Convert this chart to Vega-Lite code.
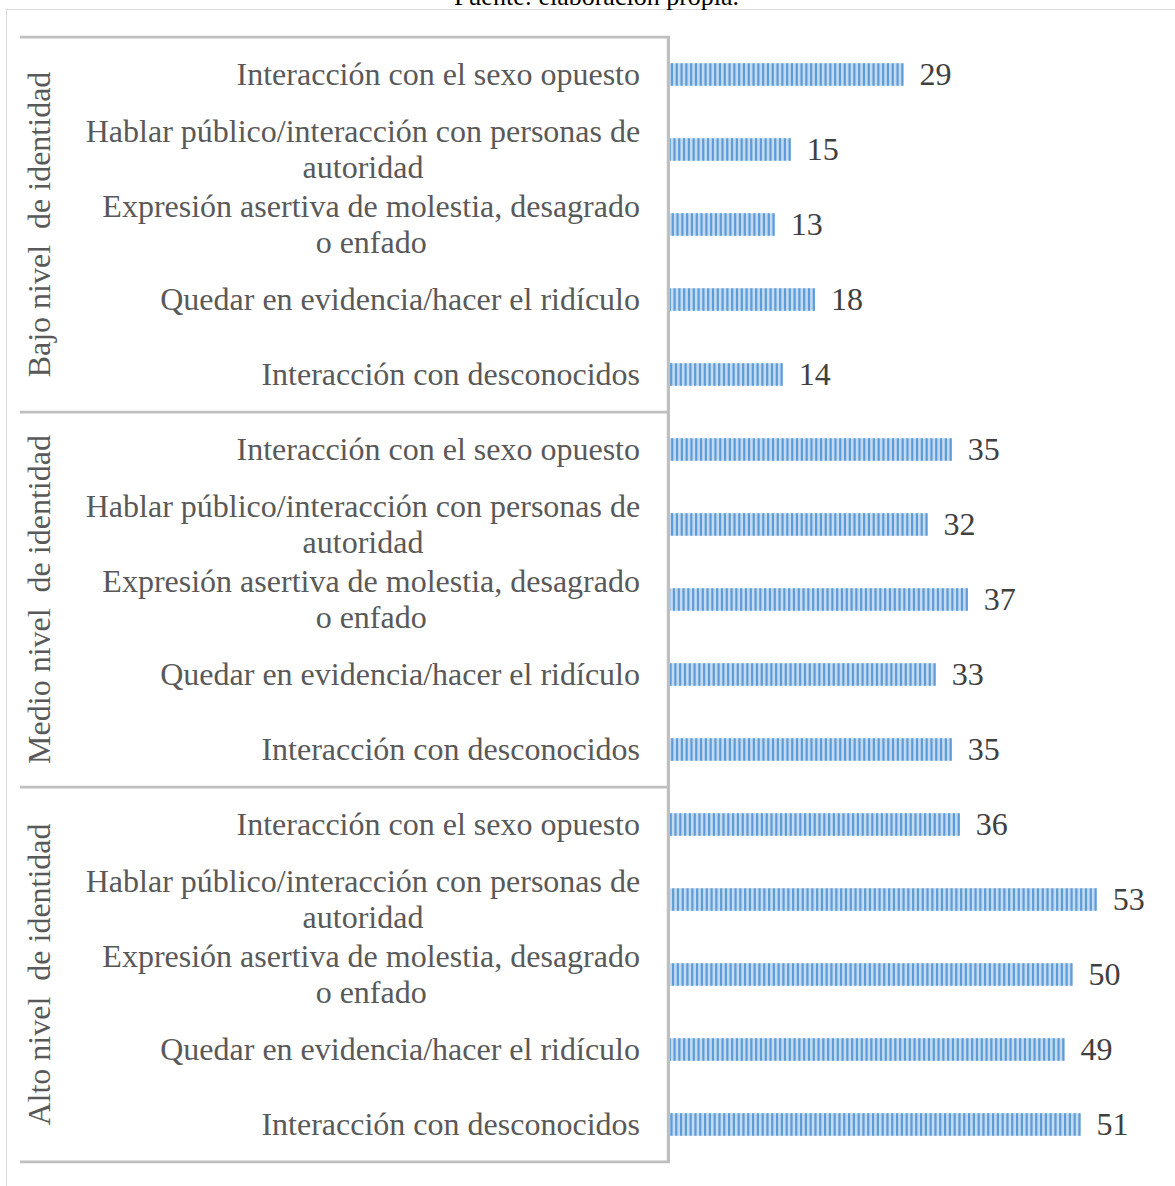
{
  "$schema": "https://vega.github.io/schema/vega-lite/v6.json",
  "autosize": "none",
  "padding": {"left": 6, "top": 9, "right": 0, "bottom": 0},
  "width": 1169,
  "height": 1177,
  "background": "white",
  "title": {
    "text": "Fuente: elaboración propia.",
    "font": "Liberation Serif",
    "fontSize": 26,
    "fontWeight": "normal",
    "color": "#000000",
    "anchor": "middle",
    "baseline": "alphabetic",
    "offset": 0,
    "dy": 22,
    "dx": 6
  },
  "config": {
    "view": {"stroke": "#d9d9d9", "strokeWidth": 1},
    "axis": {"disable": true}
  },
  "data": {
    "values": [
      {"id": 1, "group": "Bajo nivel\u00a0 de identidad", "label": "Interacción con el sexo opuesto", "value": 29},
      {"id": 2, "group": "Bajo nivel\u00a0 de identidad", "label": "Hablar público/interacción con personas de\nautoridad", "value": 15},
      {"id": 3, "group": "Bajo nivel\u00a0 de identidad", "label": "Expresión asertiva de molestia, desagrado\no enfado", "value": 13},
      {"id": 4, "group": "Bajo nivel\u00a0 de identidad", "label": "Quedar en evidencia/hacer el ridículo", "value": 18},
      {"id": 5, "group": "Bajo nivel\u00a0 de identidad", "label": "Interacción con desconocidos", "value": 14},
      {"id": 6, "group": "Medio nivel\u00a0 de identidad", "label": "Interacción con el sexo opuesto", "value": 35},
      {"id": 7, "group": "Medio nivel\u00a0 de identidad", "label": "Hablar público/interacción con personas de\nautoridad", "value": 32},
      {"id": 8, "group": "Medio nivel\u00a0 de identidad", "label": "Expresión asertiva de molestia, desagrado\no enfado", "value": 37},
      {"id": 9, "group": "Medio nivel\u00a0 de identidad", "label": "Quedar en evidencia/hacer el ridículo", "value": 33},
      {"id": 10, "group": "Medio nivel\u00a0 de identidad", "label": "Interacción con desconocidos", "value": 35},
      {"id": 11, "group": "Alto nivel\u00a0 de identidad", "label": "Interacción con el sexo opuesto", "value": 36},
      {"id": 12, "group": "Alto nivel\u00a0 de identidad", "label": "Hablar público/interacción con personas de\nautoridad", "value": 53},
      {"id": 13, "group": "Alto nivel\u00a0 de identidad", "label": "Expresión asertiva de molestia, desagrado\no enfado", "value": 50},
      {"id": 14, "group": "Alto nivel\u00a0 de identidad", "label": "Quedar en evidencia/hacer el ridículo", "value": 49},
      {"id": 15, "group": "Alto nivel\u00a0 de identidad", "label": "Interacción con desconocidos", "value": 51}
    ]
  },
  "layer": [
    {
      "mark": {"type": "bar", "fill": "#c3daf1", "height": {"band": 0.3}},
      "encoding": {
        "y": {"field": "id", "type": "ordinal", "axis": null, "scale": {"paddingInner": 0, "paddingOuter": 0.3467, "align": 0.5385}},
        "x": {"field": "value", "type": "quantitative", "axis": null, "scale": {"domain": [-82.48, 62.73], "nice": false, "zero": false}}
      }
    },
    {
      "mark": {"type": "rule", "stroke": "#5d9cd8", "strokeWidth": 22.5, "strokeDash": [2.2, 2.6], "strokeCap": "butt"},
      "encoding": {
        "y": {"field": "id", "type": "ordinal"},
        "x": {"field": "value", "type": "quantitative"},
        "x2": {"datum": 0}
      }
    },
    {
      "transform": [{"filter": "datum.id % 5 == 1"}],
      "mark": {"type": "rule", "stroke": "#bfbfbf", "strokeWidth": 2.75},
      "encoding": {
        "y": {"field": "id", "type": "ordinal", "bandPosition": 0},
        "x": {"datum": -80.75, "type": "quantitative"},
        "x2": {"datum": 0}
      }
    },
    {
      "transform": [{"filter": "datum.id == 15"}],
      "mark": {"type": "rule", "stroke": "#bfbfbf", "strokeWidth": 2.75},
      "encoding": {
        "y": {"field": "id", "type": "ordinal", "bandPosition": 1},
        "x": {"datum": -80.75, "type": "quantitative"},
        "x2": {"datum": 0}
      }
    },
    {
      "mark": {"type": "bar", "fill": "#bfbfbf", "height": {"band": 1}},
      "encoding": {
        "y": {"field": "id", "type": "ordinal"},
        "x": {"datum": -0.4, "type": "quantitative"},
        "x2": {"datum": 0}
      }
    },
    {
      "mark": {"type": "text", "align": "left", "baseline": "middle", "dx": 16, "font": "Liberation Serif", "fontSize": 32, "color": "#404040"},
      "encoding": {
        "y": {"field": "id", "type": "ordinal"},
        "x": {"field": "value", "type": "quantitative"},
        "text": {"field": "value", "type": "quantitative"}
      }
    },
    {
      "transform": [{"filter": "indexof(datum.label, '\\n') < 0"}],
      "mark": {"type": "text", "align": "right", "baseline": "middle", "font": "Liberation Serif", "fontSize": 32, "color": "#595959"},
      "encoding": {
        "y": {"field": "id", "type": "ordinal"},
        "x": {"datum": -3.73, "type": "quantitative"},
        "text": {"field": "label", "type": "nominal"}
      }
    },
    {
      "transform": [{"filter": "indexof(datum.label, 'Hablar') == 0"}],
      "mark": {"type": "text", "align": "center", "baseline": "middle", "dy": -18, "font": "Liberation Serif", "fontSize": 32, "color": "#595959", "lineBreak": "\n", "lineHeight": 36},
      "encoding": {
        "y": {"field": "id", "type": "ordinal"},
        "x": {"datum": -38.14, "type": "quantitative"},
        "text": {"field": "label", "type": "nominal"}
      }
    },
    {
      "transform": [{"filter": "indexof(datum.label, 'Expresión') == 0"}],
      "mark": {"type": "text", "align": "center", "baseline": "middle", "dy": -18, "font": "Liberation Serif", "fontSize": 32, "color": "#595959", "lineBreak": "\n", "lineHeight": 36},
      "encoding": {
        "y": {"field": "id", "type": "ordinal"},
        "x": {"datum": -37.12, "type": "quantitative"},
        "text": {"field": "label", "type": "nominal"}
      }
    },
    {
      "transform": [{"filter": "datum.id % 5 == 3"}],
      "mark": {"type": "text", "align": "center", "baseline": "middle", "angle": 270, "font": "Liberation Serif", "fontSize": 32, "color": "#595959"},
      "encoding": {
        "y": {"field": "id", "type": "ordinal"},
        "x": {"datum": -78.26, "type": "quantitative"},
        "text": {"field": "group", "type": "nominal"}
      }
    }
  ]
}
